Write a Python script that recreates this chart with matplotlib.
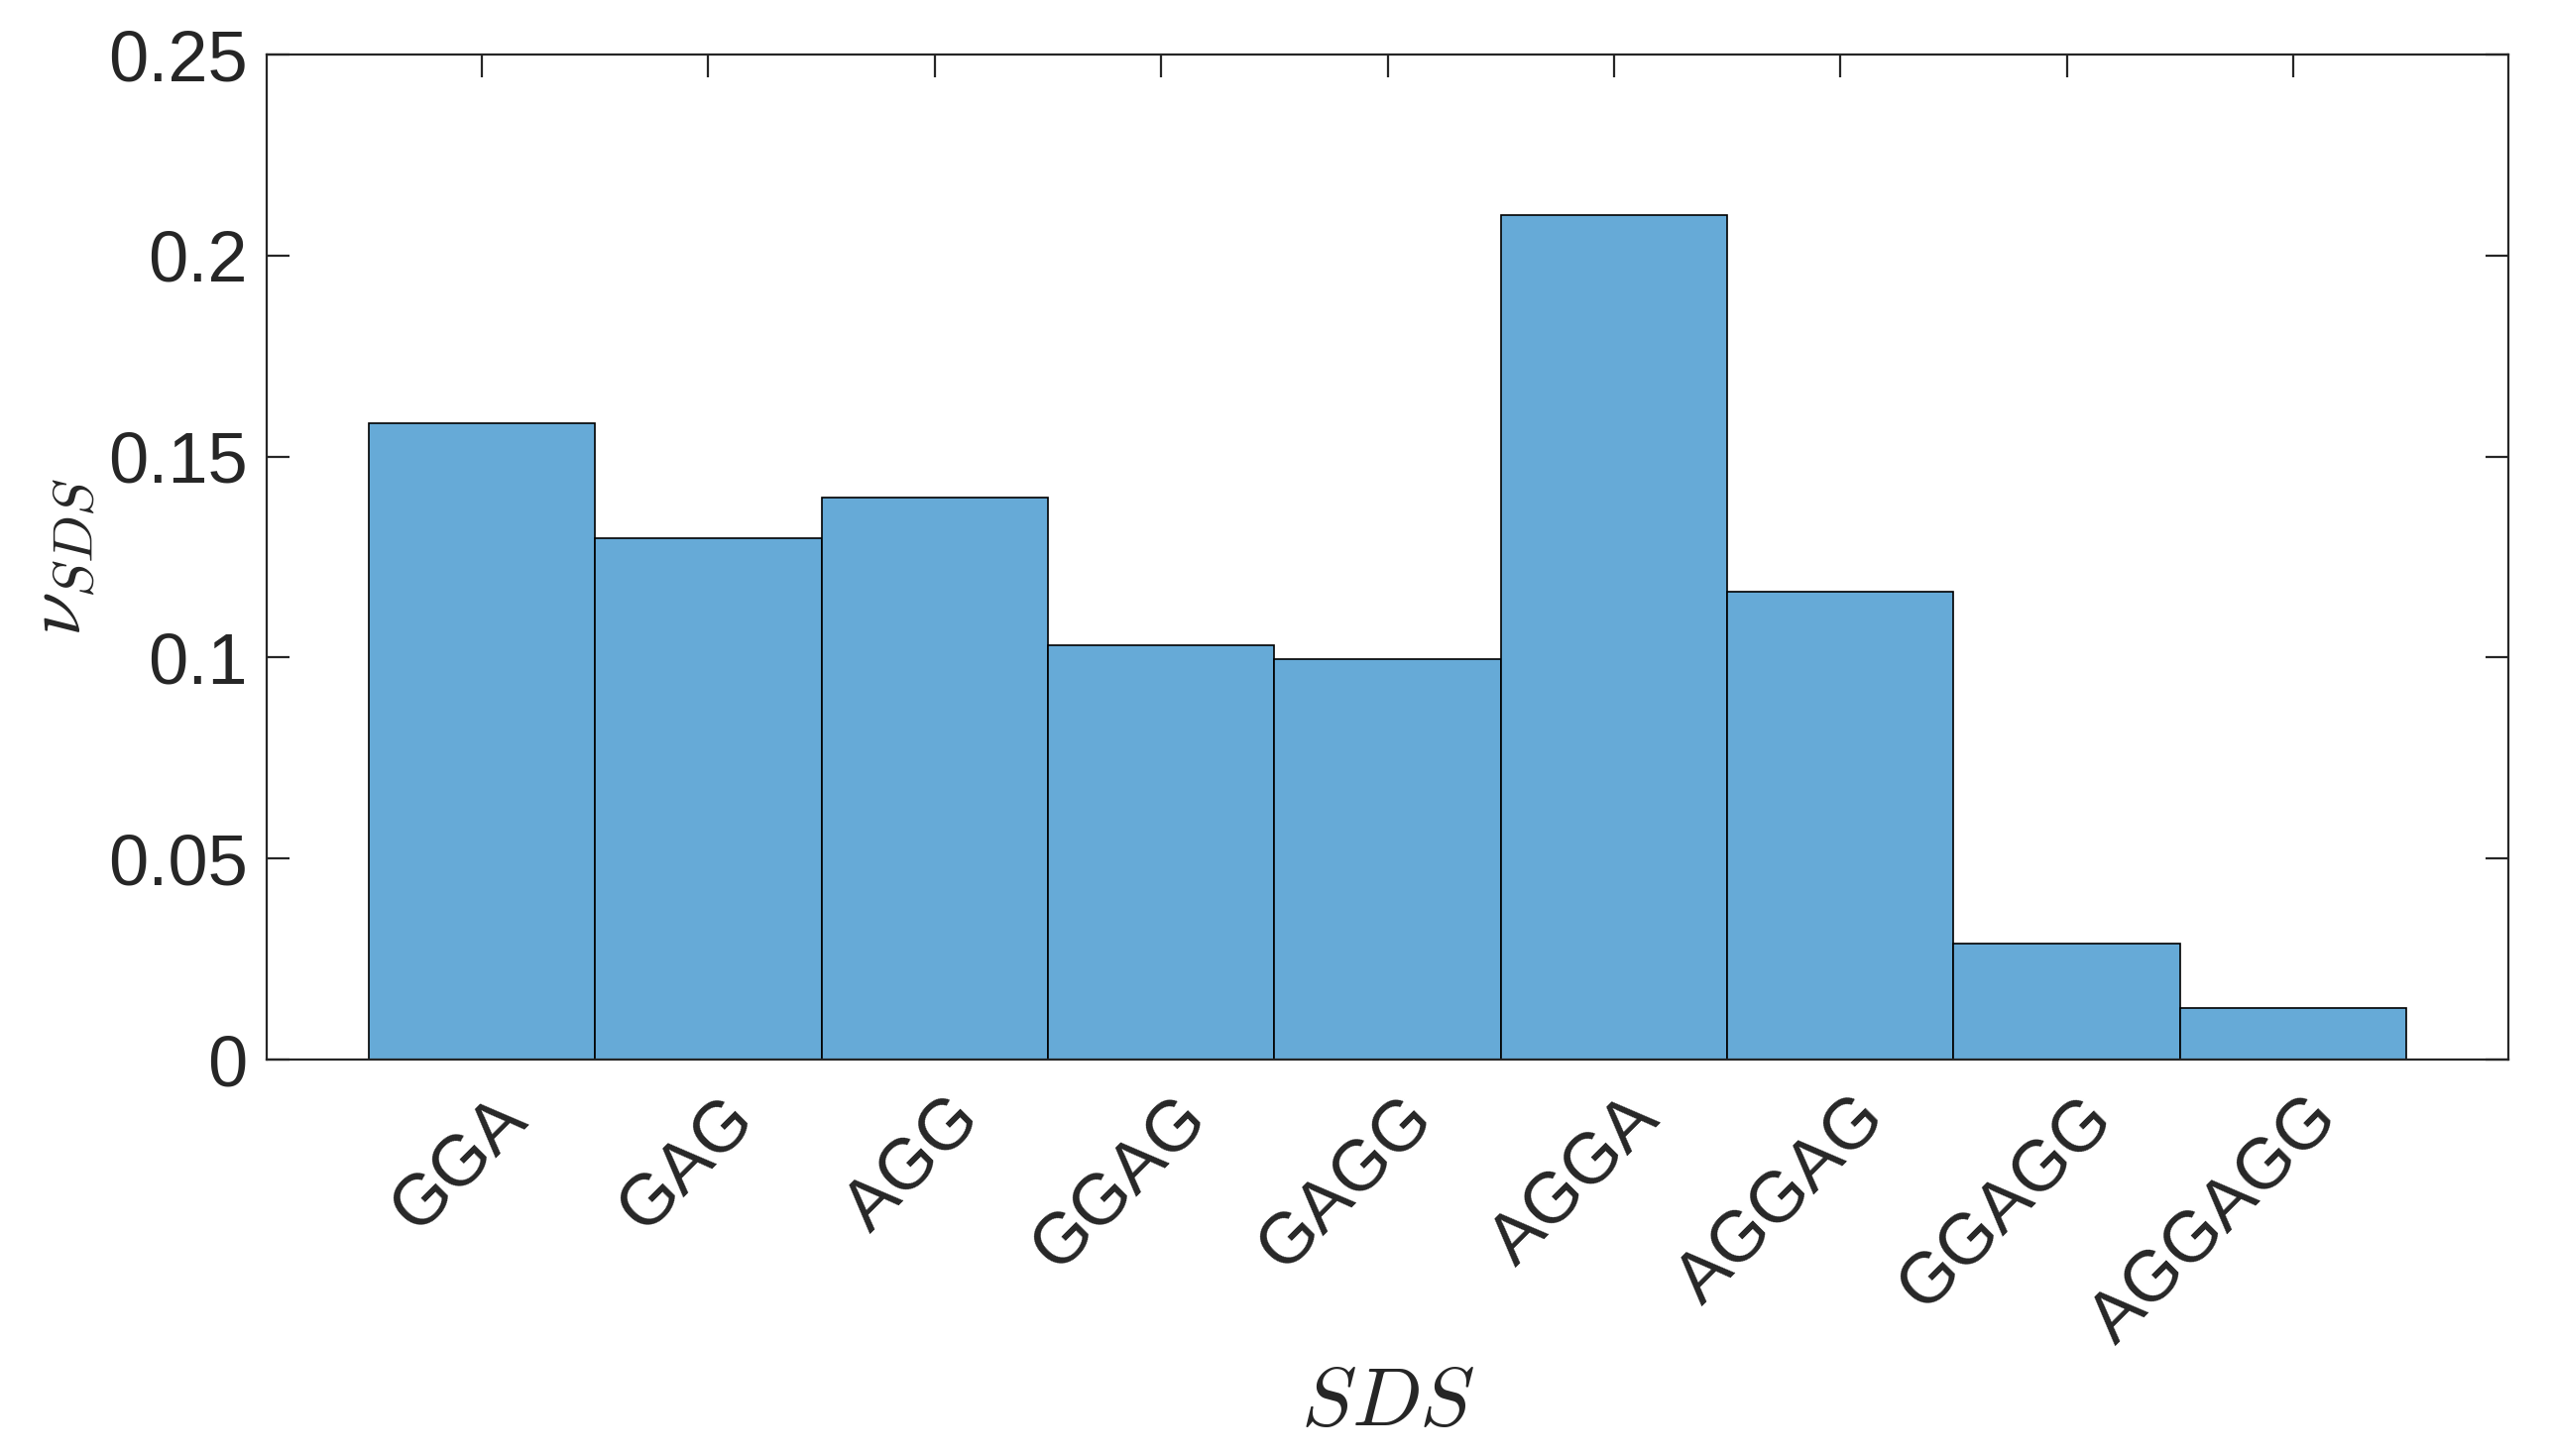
import matplotlib
matplotlib.use("Agg")
import matplotlib.pyplot as plt
import matplotlib.transforms as mtransforms
import numpy as np

categories = ["GGA", "GAG", "AGG", "GGAG", "GAGG", "AGGA", "AGGAG", "GGAGG", "AGGAGG"]
values = [0.1584, 0.1297, 0.1398, 0.1030, 0.0997, 0.2101, 0.1164, 0.0289, 0.0127]
yticks = [0, 0.05, 0.1, 0.15, 0.2, 0.25]
ytick_labels = ["0", "0.05", "0.1", "0.15", "0.2", "0.25"]

plt.rcParams['font.family'] = ['Liberation Sans', 'DejaVu Sans']
plt.rcParams['mathtext.fontset'] = 'cm'

W, H, DPI = 2572, 1469, 200
fig = plt.figure(figsize=(W / DPI, H / DPI), dpi=DPI)
ax = fig.add_axes([269 / W, 1 - 1069 / H, (2530 - 269) / W, (1069 - 55) / H])

txt = '#262626'
x = np.arange(1, len(categories) + 1)
ax.bar(x, values, width=1.0, color='#66AAD7', edgecolor='black', linewidth=0.6, zorder=2)

ax.set_xlim(0.05, 9.95)
ax.set_ylim(0, 0.25)
ax.set_yticks(yticks)
ax.set_yticklabels(ytick_labels)
ax.set_xticks(x)
ax.set_xticklabels(categories, rotation=45, ha='right', va='top', rotation_mode='anchor')

for s in ax.spines.values():
    s.set_color(txt)
    s.set_linewidth(0.8)
    s.set_zorder(3)
ax.tick_params(axis='both', which='both', direction='in', length=8.3, width=0.8,
               colors=txt, labelsize=26, top=True, right=True)
ax.tick_params(axis='y', pad=7)
ax.tick_params(axis='x', pad=9)

offset = mtransforms.ScaledTranslation(11 / DPI, 0, fig.dpi_scale_trans)
for lbl in ax.get_xticklabels():
    lbl.set_transform(lbl.get_transform() + offset)

ax.set_xlabel(r'$SDS$', fontsize=30, color=txt, labelpad=3)
ax.set_ylabel(r'$\nu_{SDS}$', fontsize=29, color=txt, labelpad=4)

fig.savefig('out.png', dpi=DPI, facecolor='white')
